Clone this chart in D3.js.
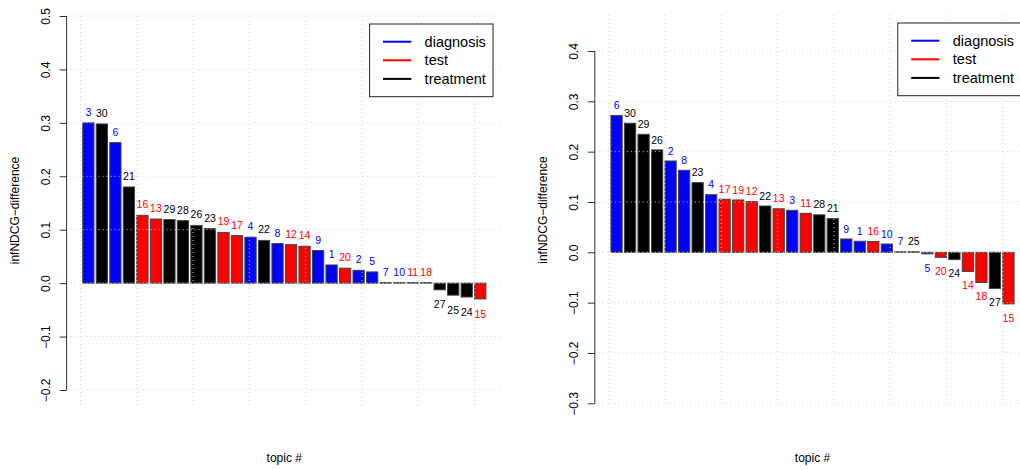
<!DOCTYPE html>
<html>
<head>
<meta charset="utf-8">
<script src="https://cdn.jsdelivr.net/npm/d3@7"></script>
<style>
  body { margin: 0; background: #fff; }
  svg text { font-family: "Liberation Sans", Arial, sans-serif; }
</style>
</head>
<body>
<div id="chart"></div>
<script>
// topic type, indexed by topic number - 1
const topicTypes = [
    'diagnosis', 'diagnosis', 'diagnosis', 'diagnosis', 'diagnosis',
    'diagnosis', 'diagnosis', 'diagnosis', 'diagnosis', 'diagnosis',
    'test', 'test', 'test', 'test', 'test',
    'test', 'test', 'test', 'test', 'test',
    'treatment', 'treatment', 'treatment', 'treatment', 'treatment',
    'treatment', 'treatment', 'treatment', 'treatment', 'treatment'
];
const legendLabels = ['diagnosis', 'test', 'treatment'];

const leftTopics = [3, 30, 6, 21, 16, 13, 29, 28, 26, 23, 19, 17, 4, 22, 8, 12, 14, 9, 1, 20, 2, 5, 7, 10, 11, 18, 27, 25, 24, 15];
const leftValues = [0.300, 0.298, 0.263, 0.180, 0.127, 0.120, 0.119, 0.117, 0.108, 0.102,
    0.095, 0.089, 0.086, 0.080, 0.074, 0.072, 0.069, 0.061, 0.034, 0.028,
    0.024, 0.021, 0.001, 0.001, 0.001, 0.001, -0.0125, -0.0225, -0.026, -0.0295];
const leftTicks = [-0.2, -0.1, 0.0, 0.1, 0.2, 0.3, 0.4, 0.5];

const rightTopics = [6, 30, 29, 26, 2, 8, 23, 4, 17, 19, 12, 22, 13, 3, 11, 28, 21, 9, 1, 16, 10, 7, 25, 5, 20, 24, 14, 18, 27, 15];
const rightValues = [0.272, 0.2565, 0.2345, 0.2035, 0.1815, 0.163, 0.1385, 0.1145, 0.1055, 0.104,
    0.101, 0.092, 0.0865, 0.0835, 0.0775, 0.0745, 0.067, 0.0265, 0.022, 0.0215,
    0.0165, 0.001, 0.001, -0.003, -0.010, -0.0145, -0.038, -0.060, -0.072, -0.1025];
const rightTicks = [-0.3, -0.2, -0.1, 0.0, 0.1, 0.2, 0.3, 0.4];

const colors = { diagnosis: '#0000ff', test: '#ff0000', treatment: '#000000' };

const svg = d3.select('#chart')
    .append('svg')
    .attr('width', 1020)
    .attr('height', 470);

function drawPanel(opt) {
    const g = svg.append('g');
    const n = opt.topics.length;
    // R barplot units: bar i spans [0.2 + 1.2 i, 1.2 + 1.2 i]
    const xScale = d3.scaleLinear()
        .domain([-1.232, 37.432])
        .range([opt.left, opt.left + 435.4]);
    const yScale = d3.scaleLinear()
        .domain([opt.ticks[0], opt.ticks[opt.ticks.length - 1]])
        .range([opt.yBottom, opt.yTop]);

    const plotRight = xScale(37.432);
    const data = opt.topics.map((t, i) => ({ topic: t, value: opt.values[i], type: topicTypes[t - 1], i: i }));

    g.selectAll('.bar')
        .data(data)
        .enter()
        .append('rect')
        .attr('class', 'bar')
        .attr('x', d => xScale(0.2 + d.i * 1.2))
        .attr('width', xScale(1) - xScale(0))
        .attr('y', d => yScale(Math.max(0, d.value)))
        .attr('height', d => Math.abs(yScale(d.value) - yScale(0)))
        .attr('fill', d => colors[d.type])
        .attr('stroke', '#444')
        .attr('stroke-width', 1);

    // grid over the bars
    const vgrid = [0, 5, 10, 15, 20, 25, 30, 35];
    g.selectAll('.vgrid')
        .data(vgrid)
        .enter()
        .append('line')
        .attr('x1', d => xScale(d)).attr('x2', d => xScale(d))
        .attr('y1', opt.gridTop).attr('y2', opt.gridBottom)
        .attr('stroke', '#d3d3d3')
        .attr('stroke-dasharray', '1,3');
    g.selectAll('.hgrid')
        .data(opt.ticks)
        .enter()
        .append('line')
        .attr('x1', opt.left).attr('x2', plotRight)
        .attr('y1', d => yScale(d)).attr('y2', d => yScale(d))
        .attr('stroke', '#d3d3d3')
        .attr('stroke-dasharray', '1,3');

    g.selectAll('.lbl')
        .data(data)
        .enter()
        .append('text')
        .attr('x', d => xScale(0.7 + d.i * 1.2))
        .attr('y', d => yScale(d.value >= 0 ? d.value + 0.02 : d.value - 0.028))
        .attr('dy', '0.35em')
        .attr('text-anchor', 'middle')
        .attr('font-size', '10.5px')
        .attr('fill', d => colors[d.type])
        .text(d => d.topic);

    // y axis
    const yAxis = d3.axisLeft(yScale)
        .tickValues(opt.ticks)
        .tickSize(7)
        .tickFormat(d3.format('.1f'));
    const ax = g.append('g')
        .attr('transform', `translate(${opt.left}, 0)`)
        .call(yAxis);
    ax.select('.domain').attr('stroke', '#333').attr('d', `M-7,${yScale(opt.ticks[0])}H0V${yScale(opt.ticks[opt.ticks.length - 1])}H-7`);
    ax.select('.domain').attr('d', `M0,${yScale(opt.ticks[0])}V${yScale(opt.ticks[opt.ticks.length - 1])}`);
    ax.selectAll('.tick line').attr('stroke', '#333');
    ax.selectAll('.tick text')
        .attr('font-size', '12px')
        .attr('font-family', '"Liberation Sans", Arial, sans-serif')
        .attr('fill', '#000')
        .attr('text-anchor', 'middle')
        .attr('dy', null)
        .attr('x', null)
        .attr('transform', 'translate(-17, 0) rotate(-90)');

    g.append('text')
        .attr('transform', `translate(${opt.left - 48}, ${(opt.gridTop + opt.gridBottom) / 2}) rotate(-90)`)
        .attr('text-anchor', 'middle')
        .attr('font-size', '12px')
        .text('infNDCG\u2212difference');

    g.append('text')
        .attr('x', (opt.left + plotRight) / 2)
        .attr('y', 462)
        .attr('text-anchor', 'middle')
        .attr('font-size', '12px')
        .text('topic #');

    // legend
    const lx = plotRight - 9 - 123.4;
    const ly = opt.gridTop + 8;
    const legend = g.append('g').attr('transform', `translate(${lx}, ${ly})`);
    legend.append('rect')
        .attr('width', 123.4).attr('height', 72.7)
        .attr('fill', '#fff').attr('stroke', '#222');
    legendLabels.forEach((name, k) => {
        legend.append('line')
            .attr('x1', 13.4).attr('x2', 41.7)
            .attr('y1', 17.7 + k * 18.6).attr('y2', 17.7 + k * 18.6)
            .attr('stroke', colors[name]).attr('stroke-width', 2);
        legend.append('text')
            .attr('x', 55).attr('y', 17.7 + k * 18.6)
            .attr('dy', '0.35em')
            .attr('font-size', '14.5px')
            .text(name);
    });
}

drawPanel({ topics: leftTopics, values: leftValues, ticks: leftTicks,
    left: 66.6, yTop: 16, yBottom: 390, gridTop: 16, gridBottom: 405 });
drawPanel({ topics: rightTopics, values: rightValues, ticks: rightTicks,
    left: 594.8, yTop: 51, yBottom: 403.3, gridTop: 15, gridBottom: 405 });
</script>
</body>
</html>
